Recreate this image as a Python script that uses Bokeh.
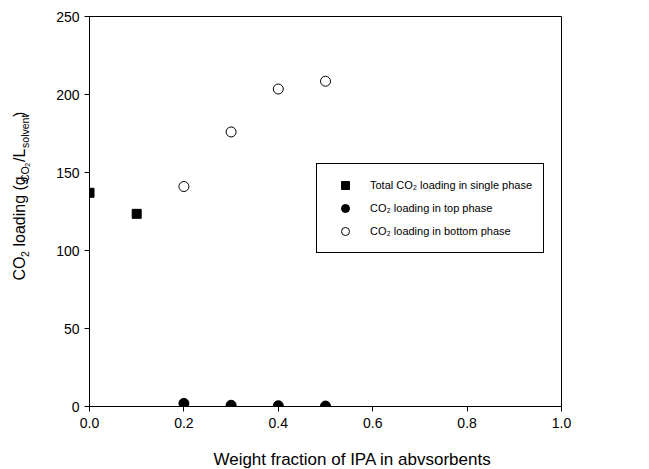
import math
from bokeh.plotting import figure
from bokeh.models import Legend, LegendItem, NumeralTickFormatter, FixedTicker, Range1d, ColumnDataSource
from bokeh.layouts import row, column
from bokeh.core.properties import value, field
from bokeh.embed import file_html
from bokeh.resources import INLINE

# ---- data ----
x_single = [0.0, 0.1]
y_single = [137.0, 123.5]
x_top = [0.2, 0.3, 0.4, 0.5]
y_top = [2.0, 0.8, 0.5, 0.3]
x_bottom = [0.2, 0.3, 0.4, 0.5]
y_bottom = [141.0, 176.0, 203.5, 208.5]
x_ticks = [0.0, 0.2, 0.4, 0.6, 0.8, 1.0]
y_ticks = [0, 50, 100, 150, 200, 250]
legend_labels = ["Total CO\u2082 loading in single phase",
                 "CO\u2082 loading in top phase",
                 "CO\u2082 loading in bottom phase"]
x_title = "Weight fraction of IPA in abvsorbents"
y_title_parts = [("CO", "main"), ("2", "sub"), (" loading (g", "main"), ("CO", "sub"),
                 ("2", "subsub"), ("/L", "main"), ("solvent", "sub"), (")", "main")]

FONT = "Liberation Sans"
W, H = 649, 469
LEFT_W = 45          # strip holding the y title
BOTTOM_H = 29        # strip holding the x title
MAIN_H = H - BOTTOM_H

p = figure(width=W - LEFT_W, height=MAIN_H, x_range=Range1d(0, 1), y_range=Range1d(0, 250),
           output_backend="svg", toolbar_location=None,
           min_border_left=89 - LEFT_W, min_border_right=W - 561, min_border_top=16,
           min_border_bottom=MAIN_H - 406)

p.background_fill_color = "white"
p.border_fill_color = "white"
p.outline_line_color = "black"
p.outline_line_width = 1
p.outline_line_alpha = 1
p.xgrid.visible = False
p.ygrid.visible = False

for ax in (p.xaxis[0], p.yaxis[0]):
    ax.axis_line_color = "black"
    ax.axis_line_width = 1
    ax.major_tick_line_color = "black"
    ax.major_tick_out = 5
    ax.major_tick_in = 0
    ax.minor_tick_line_color = None
    ax.major_label_text_font = FONT
    ax.major_label_text_font_size = "14px"
    ax.major_label_text_color = "black"
    ax.major_label_standoff = 5

p.xaxis.ticker = FixedTicker(ticks=x_ticks)
p.yaxis.ticker = FixedTicker(ticks=y_ticks)
p.xaxis.formatter = NumeralTickFormatter(format="0.0")
p.xaxis.major_label_standoff = 6

r1 = p.scatter(x_single, y_single, marker="square", size=9, fill_color="black", line_color="black")
r2 = p.scatter(x_top, y_top, marker="circle", size=10, fill_color="black", line_color="black")
r3 = p.scatter(x_bottom, y_bottom, marker="circle", size=10, fill_color="white", line_color="black", line_width=1)

legend = Legend(items=[LegendItem(label=legend_labels[0], renderers=[r1]),
                       LegendItem(label=legend_labels[1], renderers=[r2]),
                       LegendItem(label=legend_labels[2], renderers=[r3])],
                location=(227, 153))
legend.border_line_color = "black"
legend.border_line_width = 1
legend.border_line_alpha = 1
legend.background_fill_color = "white"
legend.background_fill_alpha = 1
legend.label_text_font = FONT
legend.label_text_font_size = "11px"
legend.label_text_color = "black"
legend.padding = 11
legend.spacing = 3
legend.glyph_width = 34
legend.glyph_height = 20
legend.label_height = 20
legend.label_standoff = 8
legend.margin = 0
p.add_layout(legend, "center")

# ---- y title strip (pixel-like coordinates) ----
ylab = figure(width=LEFT_W, height=MAIN_H, x_range=Range1d(0, LEFT_W), y_range=Range1d(0, MAIN_H),
              output_backend="svg", toolbar_location=None, x_axis_type=None, y_axis_type=None,
              min_border=0, outline_line_color=None)
ylab.xgrid.visible = False
ylab.ygrid.visible = False
ylab.background_fill_color = "white"
ylab.border_fill_color = "white"

ARIAL_W = {"C": 722, "O": 778, " ": 278, "l": 222, "o": 556, "a": 556, "d": 556, "i": 222,
           "n": 556, "g": 556, "(": 333, ")": 333, "/": 278, "L": 556, "s": 500, "v": 500,
           "e": 556, "t": 278, "2": 556}
SIZES = {"main": 16.0, "sub": 10.5, "subsub": 7.0}
SHIFT = {"main": 0.0, "sub": 5.0, "subsub": 8.0}

def text_w(s, size):
    return sum(ARIAL_W.get(ch, 556) for ch in s) / 1000.0 * size

# gaps between consecutive pieces of different size
def gap(prev, k):
    if prev is None or prev == k:
        return 0.0
    if prev == "main":
        return 2.5
    return 1.5

total = 0.0
prev = None
for t, k in y_title_parts:
    total += gap(prev, k) + text_w(t, SIZES[k])
    prev = k
base_x = 19
pos = (MAIN_H - 203) - total / 2.0
xs, ys, ts, fs = [], [], [], []
prev = None
for t, k in y_title_parts:
    size = SIZES[k]
    pos += gap(prev, k)
    lead = len(t) - len(t.lstrip(" "))
    pos += lead * ARIAL_W[" "] / 1000.0 * size
    core = t.strip(" ")
    xs.append(base_x + SHIFT[k])
    ys.append(pos)
    ts.append(core)
    fs.append(f"{size}px")
    pos += text_w(core, size)
    prev = k
src = ColumnDataSource(dict(x=xs, y=ys, text=ts, size=fs))
ylab.text(x="x", y="y", text="text", source=src, angle=math.pi / 2,
          text_font=value(FONT), text_font_size=field("size"), text_color="black",
          text_align="left", text_baseline="alphabetic")

# ---- x title strip ----
xlab = figure(width=W, height=BOTTOM_H, x_range=Range1d(0, W), y_range=Range1d(0, BOTTOM_H),
              output_backend="svg", toolbar_location=None, x_axis_type=None, y_axis_type=None,
              min_border=0, outline_line_color=None)
xlab.xgrid.visible = False
xlab.ygrid.visible = False
xlab.background_fill_color = "white"
xlab.border_fill_color = "white"
xlab.text(x=[352], y=[BOTTOM_H - (459 - MAIN_H)], text=[x_title], text_font=value(FONT),
          text_font_size="17px", text_color="black", text_align="center", text_baseline="alphabetic")

layout = column(row(ylab, p, spacing=0), xlab, spacing=0)
open("out.html", "w").write(file_html(layout, INLINE))
